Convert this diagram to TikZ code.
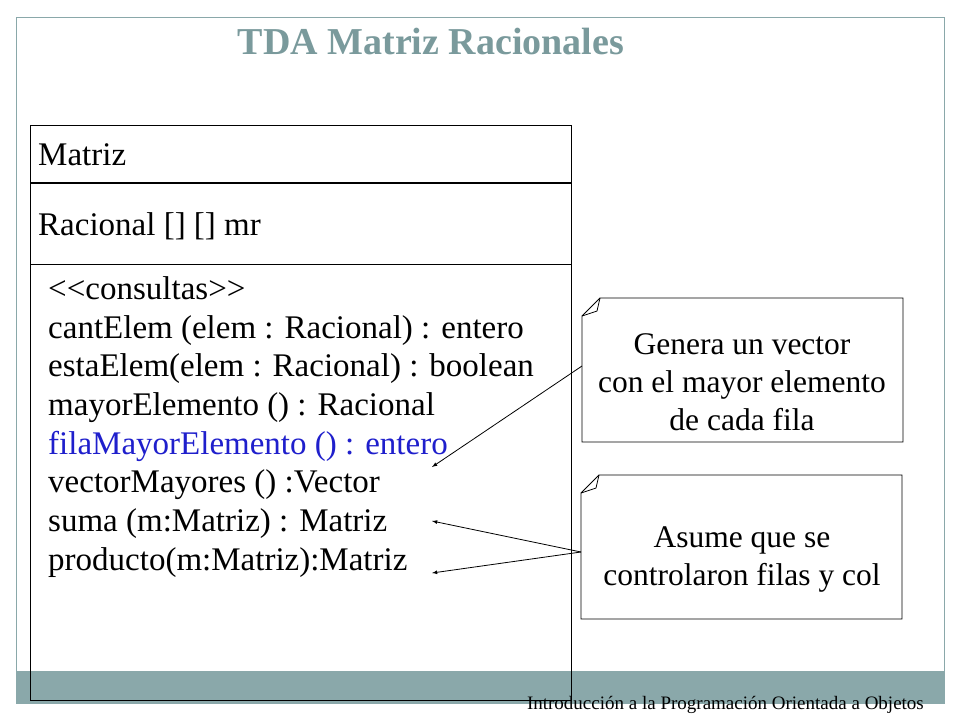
\documentclass[tikz,border=0pt]{standalone}
\usepackage{fontspec}
\setmainfont{Liberation Serif}
\definecolor{frame}{HTML}{8AA8AA}
\definecolor{ttl}{HTML}{7A9A9C}
\definecolor{blu}{HTML}{1F1FCC}
\begin{document}
\begin{tikzpicture}[x=1pt,y=-1pt,
  txt/.style={font=\fontsize{33}{39}\selectfont,inner sep=0pt},
  ntxt/.style={font=\fontsize{31.5}{38}\selectfont,inner sep=0pt,align=center},
  note/.style={draw=black,line width=0.8pt},
  arr/.style={-latex,line width=0.8pt}]
\useasboundingbox (0,0) rectangle (960,720);
\fill[white] (0,0) rectangle (960,720);
\draw[frame,line width=1pt] (16,17) rectangle (944,703);
\fill[frame] (16,671) rectangle (944,703);
\node[font=\fontsize{38}{44}\selectfont\bfseries,text=ttl,inner sep=0pt] (title) at (431,42) {TDA Matriz Racionales};
% class box
\draw[line width=1pt] (30,125) rectangle (571,700);
\draw[line width=1.5pt] (30,183) -- (571,183);
\draw[line width=1pt] (30,264) -- (571,264);
\node[txt,anchor=base west] (cn) at (38,165) {Matriz};
\node[txt,anchor=base west] (at) at (38,235) {Racional [] [] mr};
\node[txt,anchor=base west] (m0) at (48,299) {<{}<consultas>{}>};
\node[txt,anchor=base west] (m1) at (48,338) {cantElem (elem : Racional) : entero};
\node[txt,anchor=base west] (m2) at (48,376) {estaElem(elem : Racional) : boolean};
\node[txt,anchor=base west] (m3) at (48,415) {mayorElemento () : Racional};
\node[txt,anchor=base west,text=blu] (m4) at (48,454) {filaMayorElemento () : entero};
\node[txt,anchor=base west] (m5) at (48,492) {vectorMayores () :Vector};
\node[txt,anchor=base west] (m6) at (48,531) {suma (m:Matriz) : Matriz};
\node[txt,anchor=base west] (m7) at (48,570) {producto(m:Matriz):Matriz};
% notes
\draw[note,fill=white] (600,298) -- (903,298) -- (903,442) -- (582,442) -- (582,316) -- cycle;
\draw[note] (582,316) -- (597,311) -- (600,298);
\node[ntxt] (n1) at (742,382) {Genera un vector\\con el mayor elemento\\de cada fila};
\draw[note,fill=white] (599,475) -- (902,475) -- (902,619) -- (581,619) -- (581,493) -- cycle;
\draw[note] (581,493) -- (596,488) -- (599,475);
\node[ntxt] (n2) at (742,559) {Asume que se\\controlaron filas y col};
\coordinate (p1) at (582,366);
\coordinate (p2) at (581,552);
\coordinate (t1) at (432,467);
\coordinate (t2) at (432,521);
\coordinate (t3) at (432,573);
\draw[arr] (p1) -- (t1);
\draw[arr] (p2) -- (t2);
\draw[arr] (p2) -- (t3);
\node[font=\fontsize{19}{22}\selectfont,anchor=base east,inner sep=0pt] (ft) at (924,709) {Introducción a la Programación Orientada a Objetos};
\end{tikzpicture}
\end{document}
